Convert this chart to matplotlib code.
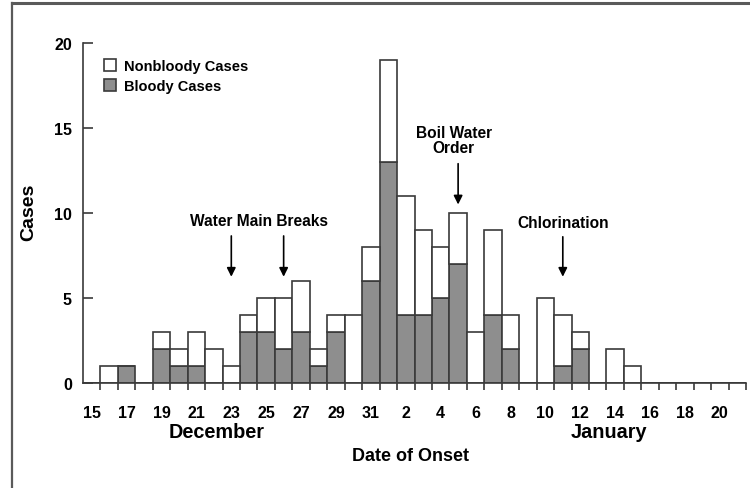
import matplotlib
matplotlib.use('Agg')
import matplotlib.pyplot as plt
from matplotlib.patches import Patch
from matplotlib.lines import Line2D

# one entry per day of onset, Dec 15 .. Jan 21
day_labels = ['15', '', '17', '', '19', '', '21', '', '23', '', '25', '', '27', '', '29', '', '31',
              '', '2', '', '4', '', '6', '', '8', '', '10', '', '12', '', '14', '', '16', '', '18', '', '20', '']
bloody = [0, 0, 1, 0, 2, 1, 1, 0, 0, 3, 3, 2, 3, 1, 3, 0, 6,
          13, 4, 4, 5, 7, 0, 4, 2, 0, 0, 1, 2, 0, 0, 0, 0, 0, 0, 0, 0, 0]
nonbloody = [0, 1, 0, 0, 1, 1, 2, 2, 1, 1, 2, 3, 3, 1, 1, 4, 2,
             6, 7, 5, 3, 3, 3, 5, 2, 0, 5, 3, 1, 0, 2, 1, 0, 0, 0, 0, 0, 0]

GRAY = '#8e8e8e'
EDGE = '#3a3a3a'

plt.rcParams['font.family'] = ['Liberation Sans', 'DejaVu Sans']
plt.rcParams['font.weight'] = 'bold'

fig = plt.figure(figsize=(7.5, 4.89), dpi=100)
ax = fig.add_axes([83/750, 1 - 384/489, 663/750, 340/489])

x = list(range(len(day_labels)))
ax.bar(x, bloody, width=1, align='edge', color=GRAY, edgecolor=EDGE, linewidth=1.2)
ax.bar(x, nonbloody, bottom=bloody, width=1, align='edge', color='white', edgecolor=EDGE, linewidth=1.2)

ax.set_xlim(0, len(day_labels))
ax.set_ylim(0, 20)
for s in ['top', 'right']:
    ax.spines[s].set_visible(False)
for s in ['left', 'bottom']:
    ax.spines[s].set_color(EDGE)
    ax.spines[s].set_linewidth(1.2)

ax.set_yticks([0, 5, 10, 15, 20])
ax.tick_params(axis='y', direction='in', length=7, width=1.2, color=EDGE, pad=8, labelsize=11.5)

# bar edges get the tick marks, labels sit in the middle of each day
ax.set_xticks(range(1, len(day_labels) + 1))
ax.set_xticklabels([])
ax.tick_params(axis='x', which='major', direction='out', length=5, width=1.2, color=EDGE)
ax.set_xticks([i + 0.5 for i in x], minor=True)
ax.set_xticklabels(day_labels, minor=True)
ax.tick_params(axis='x', which='minor', length=0, pad=16, labelsize=11.5)

# arrows and notes
arrow = dict(arrowstyle='-|>', color='black', lw=1.2, mutation_scale=13, shrinkA=0, shrinkB=0)
ax.annotate('', xy=(8.5, 6.25), xytext=(8.5, 8.65), arrowprops=arrow)
ax.annotate('', xy=(11.5, 6.25), xytext=(11.5, 8.65), arrowprops=arrow)
ax.text(10.1, 9.53, 'Water Main Breaks', ha='center', va='center', fontsize=11.2)

ax.annotate('', xy=(21.5, 10.5), xytext=(21.5, 12.9), arrowprops=arrow)
ax.text(21.26, 14.3, 'Boil Water\nOrder', ha='center', va='center', fontsize=11.2, linespacing=1.05)

ax.annotate('', xy=(27.5, 6.25), xytext=(27.5, 8.6), arrowprops=arrow)
ax.text(27.5, 9.47, 'Chlorination', ha='center', va='center', fontsize=11.2)

handles = [Patch(facecolor='white', edgecolor=EDGE, linewidth=1.2),
           Patch(facecolor=GRAY, edgecolor=EDGE, linewidth=1.2)]
ax.legend(handles, ['Nonbloody Cases', 'Bloody Cases'], loc='upper left',
          bbox_to_anchor=(104/750, 1 - 60/489), bbox_transform=fig.transFigure,
          frameon=False, fontsize=10.5, handlelength=0.85, handleheight=0.85,
          handletextpad=0.55, labelspacing=0.4, borderpad=0, borderaxespad=0)

fig.text(29/750, 1 - 212/489, 'Cases', rotation=90, ha='center', va='center', fontsize=14)
fig.text(216.7/750, 1 - 432.5/489, 'December', ha='center', va='center', fontsize=14.3)
fig.text(609/750, 1 - 432.5/489, 'January', ha='center', va='center', fontsize=14.3)
fig.text(410/750, 1 - 457/489, 'Date of Onset', ha='center', va='center', fontsize=13)

# frame around the figure (left and top edges visible)
fig.add_artist(Line2D([12/750, 12/750], [0, 1 - 4/489], transform=fig.transFigure, color='#5a5a5a', lw=1.6))
fig.add_artist(Line2D([12/750, 1], [1 - 4/489, 1 - 4/489], transform=fig.transFigure, color='#5a5a5a', lw=2.2))

plt.savefig('out.png', dpi=100)
